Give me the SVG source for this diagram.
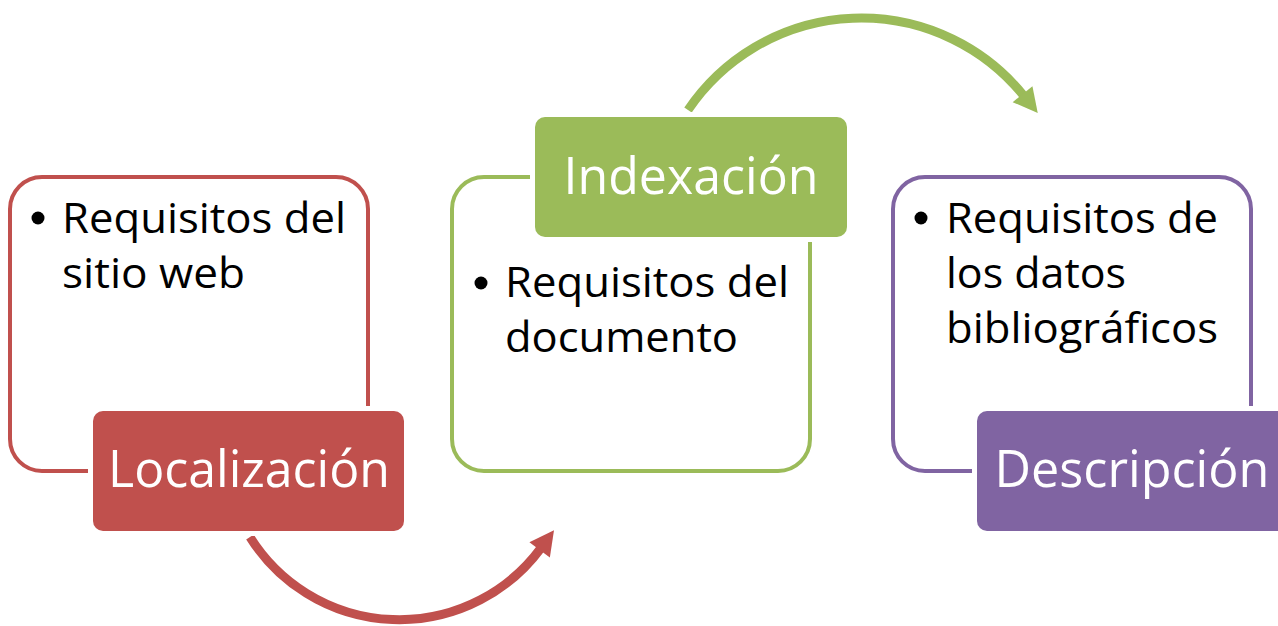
<svg xmlns="http://www.w3.org/2000/svg" width="1278" height="626" viewBox="0 0 1278 626">
<style>
.outline{fill:#fff;stroke-width:4}
.gap{fill:#fff;stroke:#fff;stroke-width:10}
.hdr{font-family:"Open Sans","Liberation Sans",sans-serif;font-size:52px;fill:#fff;text-anchor:middle}
.txt{font-family:"Open Sans","Liberation Sans",sans-serif;font-size:42px;fill:#000}
.arc{fill:none;stroke-width:9}
</style>
<defs>
<marker id="ahR" markerUnits="userSpaceOnUse" orient="auto" refX="2" refY="0" markerWidth="30" markerHeight="30" viewBox="-2 -13 26 26" overflow="visible"><path d="M0,-11 L21,0 L0,11 Z" fill="#C0504D"/></marker>
<marker id="ahG" markerUnits="userSpaceOnUse" orient="auto" refX="2" refY="0" markerWidth="30" markerHeight="30" viewBox="-2 -13 26 26" overflow="visible"><path d="M0,-11 L21,0 L0,11 Z" fill="#9BBB59"/></marker>
</defs>
<g id="connectors">
<path class="arc" stroke="#C0504D" d="M250,537 A176,176 0 0 0 541,548" marker-end="url(#ahR)"/>
<path class="arc" stroke="#9BBB59" d="M688,110 A209,209 0 0 1 1024,96" marker-end="url(#ahG)"/>
</g>
<g id="localizacion">
<rect class="outline" stroke="#C0504D" x="10" y="177" width="358" height="294" rx="32"/>
<circle cx="38" cy="218" r="6.5" fill="#000"/>
<text class="txt" x="62" y="233" textLength="284" lengthAdjust="spacingAndGlyphs">Requisitos del</text>
<text class="txt" x="62" y="288" textLength="183" lengthAdjust="spacingAndGlyphs">sitio web</text>
<rect class="gap" x="93" y="411" width="311" height="120" rx="10"/>
<rect fill="#C0504D" x="93" y="411" width="311" height="120" rx="10"/>
<text class="hdr" x="249" y="487" textLength="282" lengthAdjust="spacingAndGlyphs">Localización</text>
</g>
<g id="indexacion">
<rect class="outline" stroke="#9BBB59" x="452" y="177" width="358" height="294" rx="32"/>
<circle cx="481" cy="283" r="6.5" fill="#000"/>
<text class="txt" x="505" y="297" textLength="284" lengthAdjust="spacingAndGlyphs">Requisitos del</text>
<text class="txt" x="505" y="352" textLength="233" lengthAdjust="spacingAndGlyphs">documento</text>
<rect class="gap" x="535" y="117" width="312" height="120" rx="10"/>
<rect fill="#9BBB59" x="535" y="117" width="312" height="120" rx="10"/>
<text class="hdr" x="691" y="194" textLength="255" lengthAdjust="spacingAndGlyphs">Indexación</text>
</g>
<g id="descripcion">
<rect class="outline" stroke="#8064A2" x="893" y="177" width="358" height="294" rx="32"/>
<circle cx="921" cy="218" r="6.5" fill="#000"/>
<text class="txt" x="946" y="233" textLength="272" lengthAdjust="spacingAndGlyphs">Requisitos de</text>
<text class="txt" x="946" y="288" textLength="180" lengthAdjust="spacingAndGlyphs">los datos</text>
<text class="txt" x="946" y="343" textLength="272" lengthAdjust="spacingAndGlyphs">bibliográficos</text>
<rect class="gap" x="977" y="411" width="311" height="120" rx="10"/>
<rect fill="#8064A2" x="977" y="411" width="311" height="120" rx="10"/>
<text class="hdr" x="1132" y="487" textLength="275" lengthAdjust="spacingAndGlyphs">Descripción</text>
</g>
</svg>
